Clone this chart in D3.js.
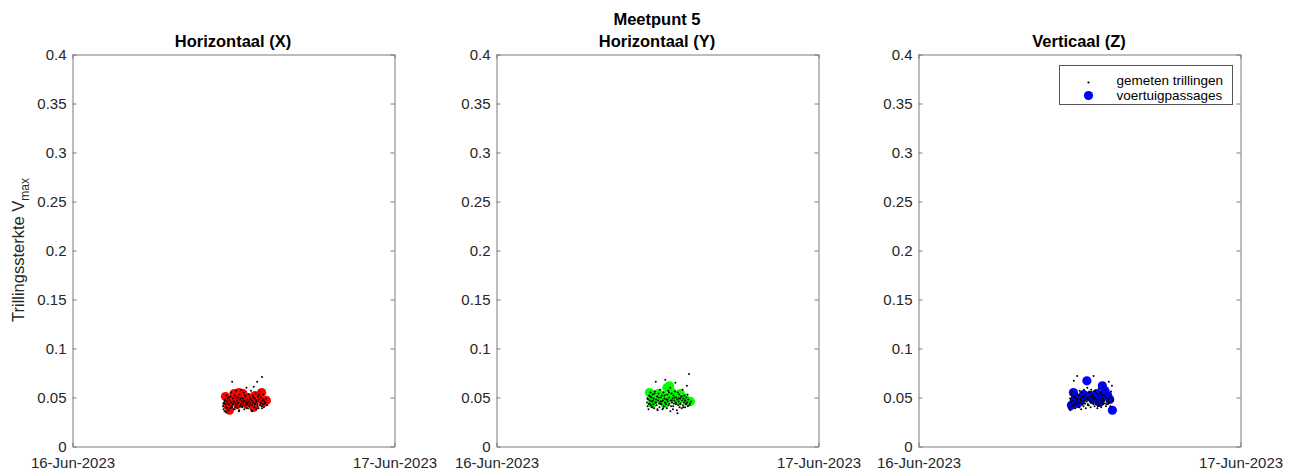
<!DOCTYPE html>
<html>
<head>
<meta charset="utf-8">
<script src="https://cdn.jsdelivr.net/npm/d3@7"></script>
<style>
  body { margin: 0; background: #fff; }
  svg { display: block; font-family: "Liberation Sans", Arial, Helvetica, sans-serif; }
</style>
</head>
<body>
<svg id="chart" width="1295" height="476"></svg>
<script>
// ---- data -------------------------------------------------------------
const figureTitle = "Meetpunt 5";
const panelTitles = ["Horizontaal (X)", "Horizontaal (Y)", "Verticaal (Z)"];
const passageColors = ["#ff0000", "#00ff00", "#0000ff"];
const legendLabels = ["gemeten trillingen", "voertuigpassages"];
const yLabelMain = "Trillingssterkte V";
const yLabelSub = "max";

const yTicks = [0, 0.05, 0.1, 0.15, 0.2, 0.25, 0.3, 0.35, 0.4];
const yTickLabels = ["0", "0.05", "0.1", "0.15", "0.2", "0.25", "0.3", "0.35", "0.4"];
const xTickLabels = ["16-Jun-2023", "17-Jun-2023"];

// measurement times, hours after 16-Jun-2023 00:00
const measHours = [
  11.22, 11.26, 11.30, 11.33, 11.37, 11.41, 11.44, 11.48, 11.51, 11.55,
  11.58, 11.62, 11.65, 11.69, 11.72, 11.76, 11.80, 11.83, 11.87, 11.90,
  11.94, 11.97, 12.01, 12.05, 12.08, 12.12, 12.15, 12.19, 12.22, 12.26,
  12.30, 12.33, 12.37, 12.40, 12.44, 12.47, 12.51, 12.55, 12.58, 12.62,
  12.65, 12.69, 12.72, 12.76, 12.80, 12.83, 12.87, 12.90, 12.94, 12.97,
  13.01, 13.05, 13.08, 13.12, 13.15, 13.19, 13.22, 13.26, 13.30, 13.33,
  13.37, 13.40, 13.44, 13.47, 13.51, 13.55, 13.58, 13.62, 13.65, 13.69,
  13.72, 13.76, 13.80, 13.83, 13.87, 13.90, 13.94, 13.97, 14.01, 14.05,
  14.08, 14.12, 14.15, 14.19, 14.22, 14.26, 14.30, 14.35, 14.42, 14.50,
  11.24, 11.35, 11.46, 11.57, 11.67, 11.78, 11.89, 11.99, 12.10, 12.21,
  12.32, 12.42, 12.53, 12.64, 12.74, 12.85, 12.96, 13.06, 13.17, 13.28,
  13.38, 13.49, 13.60, 13.70, 13.81, 13.92, 14.03, 14.13, 14.24, 14.38
];

const measX = [
  0.041, 0.038, 0.045, 0.036, 0.048, 0.043, 0.040, 0.052, 0.046, 0.039,
  0.044, 0.037, 0.050, 0.042, 0.047, 0.039, 0.055, 0.045, 0.041, 0.066,
  0.043, 0.049, 0.038, 0.046, 0.052, 0.040, 0.044, 0.057, 0.042, 0.047,
  0.039, 0.050, 0.045, 0.036, 0.053, 0.041, 0.048, 0.043, 0.058, 0.046,
  0.040, 0.049, 0.044, 0.055, 0.038, 0.047, 0.042, 0.051, 0.045, 0.060,
  0.043, 0.048, 0.039, 0.053, 0.046, 0.041, 0.050, 0.044, 0.057, 0.037,
  0.047, 0.042, 0.052, 0.045, 0.061, 0.040, 0.049, 0.044, 0.054, 0.038,
  0.046, 0.066, 0.043, 0.051, 0.039, 0.048, 0.056, 0.042, 0.045, 0.050,
  0.041, 0.071, 0.047, 0.043, 0.053, 0.040, 0.046, 0.044, 0.049, 0.042,
  0.044, 0.047, 0.035, 0.049, 0.043, 0.051, 0.040, 0.046, 0.038, 0.050,
  0.044, 0.037, 0.049, 0.041, 0.046, 0.052, 0.039, 0.045, 0.042, 0.048,
  0.036, 0.050, 0.043, 0.047, 0.041, 0.053, 0.044, 0.039, 0.048, 0.045
];

const measY = [
  0.045, 0.041, 0.048, 0.038, 0.052, 0.044, 0.047, 0.055, 0.042, 0.050,
  0.046, 0.040, 0.053, 0.043, 0.049, 0.039, 0.056, 0.045, 0.066, 0.048,
  0.042, 0.051, 0.037, 0.047, 0.054, 0.044, 0.040, 0.058, 0.046, 0.050,
  0.043, 0.052, 0.038, 0.047, 0.055, 0.041, 0.049, 0.045, 0.068, 0.044,
  0.048, 0.039, 0.053, 0.046, 0.057, 0.042, 0.050, 0.044, 0.060, 0.047,
  0.041, 0.054, 0.045, 0.049, 0.038, 0.052, 0.044, 0.047, 0.056, 0.065,
  0.043, 0.050, 0.037, 0.048, 0.055, 0.042, 0.046, 0.053, 0.040, 0.049,
  0.044, 0.051, 0.039, 0.047, 0.058, 0.042, 0.049, 0.045, 0.052, 0.040,
  0.047, 0.043, 0.050, 0.062, 0.045, 0.041, 0.048, 0.074, 0.044, 0.046,
  0.049, 0.043, 0.051, 0.040, 0.047, 0.054, 0.045, 0.038, 0.050, 0.044,
  0.046, 0.039, 0.052, 0.043, 0.048, 0.055, 0.036, 0.047, 0.041, 0.050,
  0.045, 0.034, 0.049, 0.043, 0.051, 0.040, 0.047, 0.044, 0.053, 0.042
];

const measZ = [
  0.044, 0.040, 0.049, 0.037, 0.053, 0.045, 0.041, 0.056, 0.047, 0.051,
  0.067, 0.043, 0.050, 0.039, 0.054, 0.046, 0.042, 0.072, 0.048, 0.044,
  0.052, 0.040, 0.057, 0.045, 0.049, 0.038, 0.055, 0.043, 0.051, 0.046,
  0.041, 0.058, 0.047, 0.044, 0.053, 0.039, 0.050, 0.046, 0.060, 0.043,
  0.049, 0.042, 0.056, 0.047, 0.051, 0.040, 0.058, 0.045, 0.053, 0.048,
  0.044, 0.072, 0.050, 0.041, 0.057, 0.046, 0.043, 0.054, 0.048, 0.039,
  0.052, 0.045, 0.059, 0.042, 0.050, 0.047, 0.055, 0.040, 0.053, 0.046,
  0.049, 0.043, 0.061, 0.047, 0.052, 0.044, 0.058, 0.041, 0.050, 0.046,
  0.054, 0.043, 0.048, 0.066, 0.045, 0.051, 0.041, 0.056, 0.062, 0.047,
  0.038, 0.046, 0.042, 0.051, 0.044, 0.049, 0.053, 0.040, 0.047, 0.043,
  0.050, 0.044, 0.048, 0.042, 0.055, 0.045, 0.051, 0.043, 0.049, 0.046,
  0.041, 0.048, 0.044, 0.052, 0.046, 0.050, 0.043, 0.047, 0.045, 0.049
];

// vehicle passages, hours after 16-Jun-2023 00:00
const passHours = [11.40, 11.55, 11.70, 11.85, 12.05, 12.20, 12.40, 12.55, 12.70,
                   12.90, 13.10, 13.30, 13.50, 13.70, 13.90, 14.10, 14.25, 14.45,
                   11.62, 12.30, 12.98, 13.60];
const passX = [0.051, 0.042, 0.037, 0.046, 0.054, 0.048, 0.055, 0.047, 0.054,
               0.044, 0.050, 0.045, 0.040, 0.048, 0.050, 0.055, 0.045, 0.047,
               0.047, 0.043, 0.048, 0.052];
const passY = [0.055, 0.050, 0.047, 0.053, 0.054, 0.049, 0.052, 0.044, 0.060,
               0.062, 0.055, 0.052, 0.047, 0.054, 0.050, 0.048, 0.046, 0.046,
               0.044, 0.047, 0.050, 0.049];
const passZ = [0.042, 0.055, 0.050, 0.044, 0.046, 0.049, 0.052, 0.067, 0.051,
               0.052, 0.050, 0.054, 0.045, 0.062, 0.057, 0.052, 0.048, 0.037,
               0.047, 0.053, 0.048, 0.050];

// ---- layout -----------------------------------------------------------
const panelLefts = [72, 496, 918];
const panelTop = 54;
const panelW = 322;
const panelH = 392;
const axisColor = "#7a7a7a";
const textColor = "#262626";

const dayStart = new Date(2023, 5, 16);
const dayEnd = new Date(2023, 5, 17);
const toDate = h => new Date(dayStart.getTime() + h * 3600000);

const svg = d3.select("#chart");

const measSets = [measX, measY, measZ];
const passSets = [passX, passY, passZ];

panelTitles.forEach((title, i) => {
  const g = svg.append("g")
    .attr("transform", `translate(${panelLefts[i] + 0.5},${panelTop + 0.5})`);

  const x = d3.scaleTime().domain([dayStart, dayEnd]).range([0, panelW]);
  const y = d3.scaleLinear().domain([0, 0.4]).range([panelH, 0]);

  // axes with inward ticks
  const left = g.append("g").call(
    d3.axisLeft(y).tickValues(yTicks).tickFormat((d, k) => yTickLabels[k])
      .tickSizeInner(-4).tickSizeOuter(0).tickPadding(6));
  const right = g.append("g").attr("transform", `translate(${panelW},0)`).call(
    d3.axisRight(y).tickValues(yTicks).tickFormat("")
      .tickSizeInner(-4).tickSizeOuter(0));
  const bottom = g.append("g").attr("transform", `translate(0,${panelH})`).call(
    d3.axisBottom(x).tickValues([dayStart, dayEnd]).tickFormat((d, k) => xTickLabels[k])
      .tickSizeInner(-4).tickSizeOuter(0).tickPadding(11));
  const top = g.append("g").call(
    d3.axisTop(x).tickValues([dayStart, dayEnd]).tickFormat("")
      .tickSizeInner(-4).tickSizeOuter(0));

  [left, right, bottom, top].forEach(a => {
    a.selectAll("path.domain").attr("stroke", axisColor);
    a.selectAll(".tick line").attr("stroke", axisColor);
    a.selectAll(".tick text")
      .attr("fill", textColor)
      .style("font-size", "15px")
      .style("font-family", '"Liberation Sans", Arial, sans-serif');
  });

  // vehicle passages
  g.append("g").selectAll("circle")
    .data(passHours.map((h, k) => ({ t: toDate(h), v: passSets[i][k] })))
    .join("circle")
    .attr("cx", d => x(d.t))
    .attr("cy", d => y(d.v))
    .attr("r", 4.6)
    .attr("fill", passageColors[i]);

  // measured vibrations, drawn over the passages
  g.append("g").selectAll("circle")
    .data(measHours.map((h, k) => ({ t: toDate(h), v: measSets[i][k] })))
    .join("circle")
    .attr("cx", d => x(d.t))
    .attr("cy", d => y(d.v))
    .attr("r", 1.0)
    .attr("fill", "#000");

  // panel title
  svg.append("text")
    .attr("x", panelLefts[i] + panelW / 2)
    .attr("y", 47)
    .attr("text-anchor", "middle")
    .attr("font-weight", "bold")
    .attr("font-size", "16.5px")
    .attr("fill", "#000")
    .text(title);
});

// figure title above the middle panel
svg.append("text")
  .attr("x", panelLefts[1] + panelW / 2)
  .attr("y", 25)
  .attr("text-anchor", "middle")
  .attr("font-weight", "bold")
  .attr("font-size", "16.5px")
  .attr("fill", "#000")
  .text(figureTitle);

// y-axis label with subscript
const yl = svg.append("text")
  .attr("transform", `translate(24,${panelTop + panelH / 2}) rotate(-90)`)
  .attr("text-anchor", "middle")
  .attr("font-size", "16.5px")
  .attr("fill", textColor);
yl.append("tspan").text(yLabelMain);
yl.append("tspan").attr("dy", 5).attr("font-size", "12px").text(yLabelSub);

// legend in the right panel
const lg = svg.append("g").attr("transform", "translate(1059.5,65.5)");
lg.append("rect")
  .attr("width", 173).attr("height", 39)
  .attr("fill", "#fff").attr("stroke", "#555");
lg.append("circle").attr("cx", 29).attr("cy", 17).attr("r", 1.1).attr("fill", "#000");
lg.append("circle").attr("cx", 29).attr("cy", 30).attr("r", 4.6).attr("fill", passageColors[2]);
legendLabels.forEach((t, k) => {
  lg.append("text")
    .attr("x", 57)
    .attr("y", 15 + k * 15)
    .attr("dy", "0.35em")
    .attr("font-size", "13.5px")
    .attr("fill", "#000")
    .text(t);
});
</script>
</body>
</html>
